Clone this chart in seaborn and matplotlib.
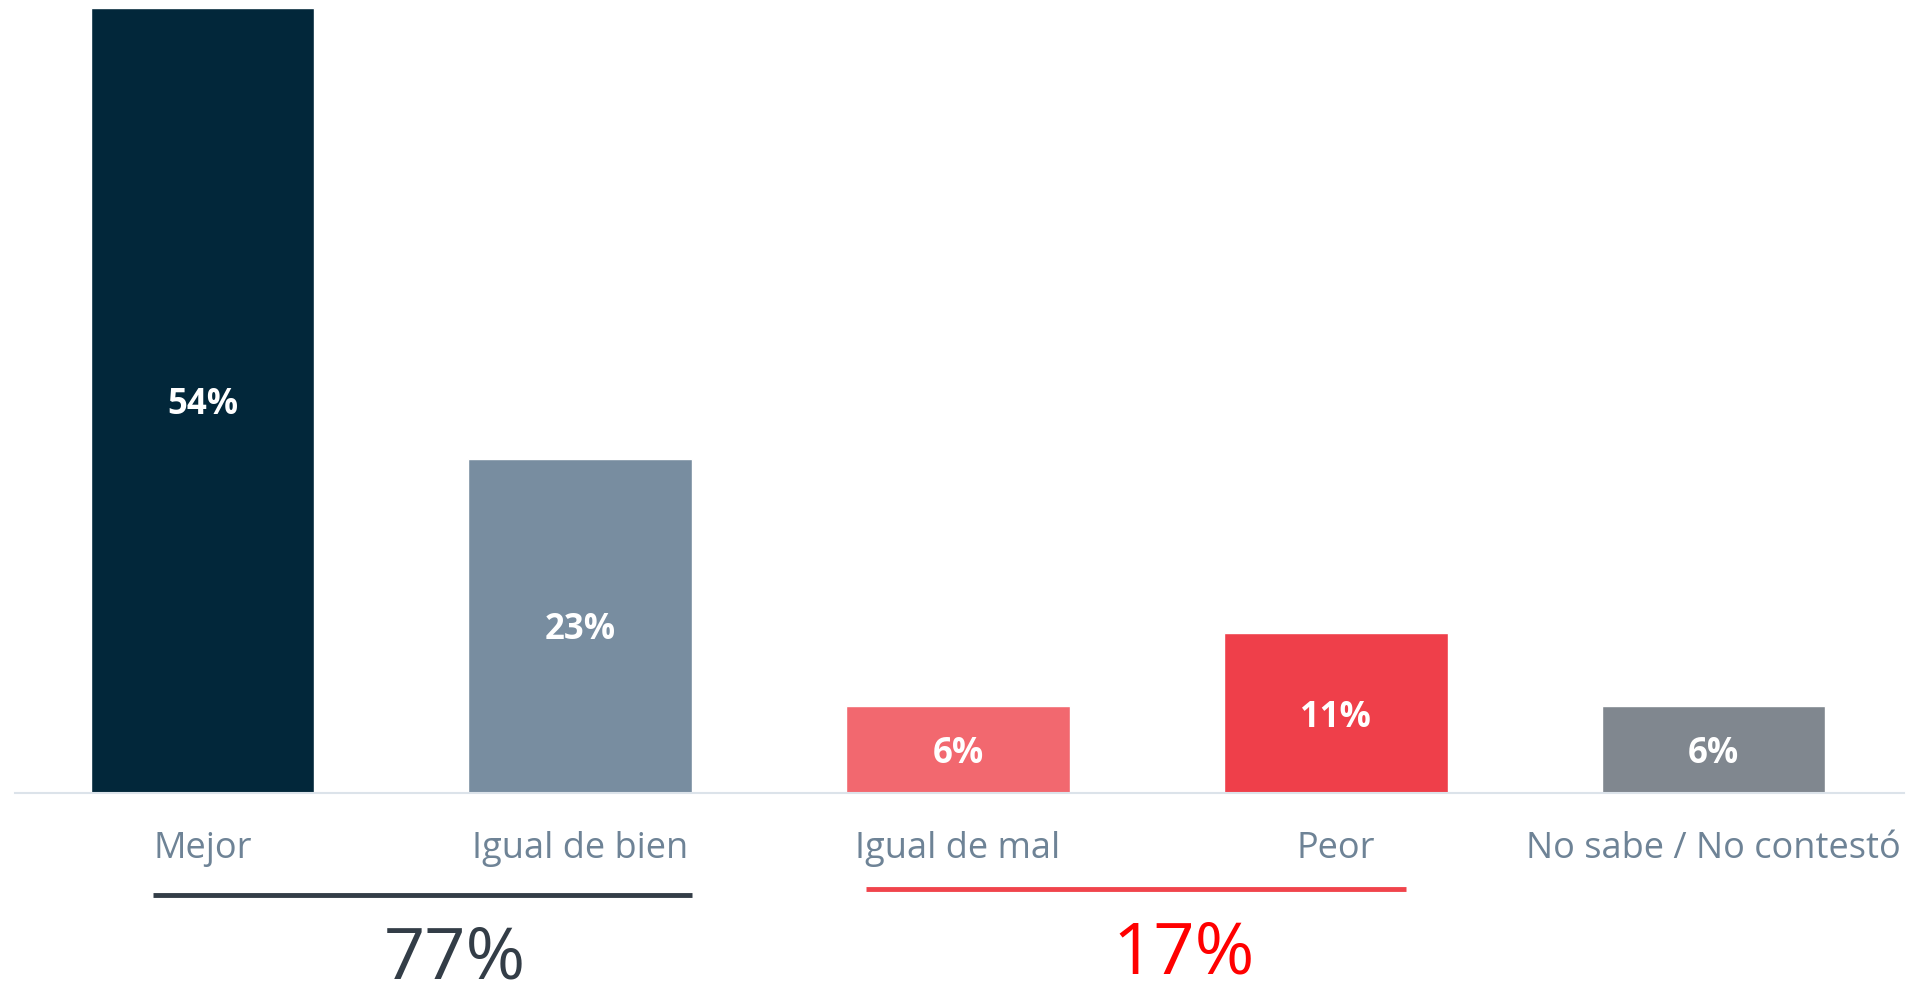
import matplotlib
import pandas as pd
import seaborn as sns

matplotlib.use("Agg")
import matplotlib.pyplot as plt

categories = ["Mejor", "Igual de bien", "Igual de mal", "Peor", "No sabe / No contestó"]
values = [54, 23, 6, 11, 6]
bar_colors = ["#02273a", "#788da0", "#f2686f", "#ef3f4a", "#80878f"]

positive_total = "77%"
negative_total = "17%"

sns.set_style("white")
plt.rcParams["font.family"] = ["Open Sans", "DejaVu Sans"]

df = pd.DataFrame({"category": categories, "value": values})

fig = plt.figure(figsize=(19.11, 9.84), dpi=100)
ax = fig.add_axes([0.00785, 0.1941, 0.9885, 0.7973])

sns.barplot(data=df, x="category", y="value", hue="category", order=categories,
            palette=dict(zip(categories, bar_colors)), width=0.592, legend=False,
            saturation=1, ax=ax)

for container in ax.containers:
    texts = ax.bar_label(container, labels=[f"{v:.0f}%" for v in container.datavalues],
                         label_type="center", color="white", fontsize=25, fontweight="bold")
    for t in texts:
        t.set_va("center_baseline")

ax.set_xlim(-0.496, 4.504)
ax.set_ylim(0, 54)
ax.set_xlabel("")
ax.set_ylabel("")
ax.set_yticks([])
ax.tick_params(axis="x", length=0, pad=27, labelsize=26, labelcolor="#6e8396")
for side in ["top", "right", "left"]:
    ax.spines[side].set_visible(False)
ax.spines["bottom"].set_color("#dce3ea")
ax.spines["bottom"].set_linewidth(1.5)

# group brackets and totals under the labels
ax.plot([-0.131, 1.296], [-7.02, -7.02], color="#333d47", lw=3.5, clip_on=False, solid_capstyle="butt")
ax.plot([1.756, 3.186], [-6.6, -6.6], color="#f0444c", lw=3.5, clip_on=False, solid_capstyle="butt")
ax.text(0.669, -12.8, positive_total, ha="center", va="baseline", fontsize=52, color="#333d47")
ax.text(2.596, -12.4, negative_total, ha="center", va="baseline", fontsize=52, color="#ff0000")

fig.savefig("out.png", dpi=100)
